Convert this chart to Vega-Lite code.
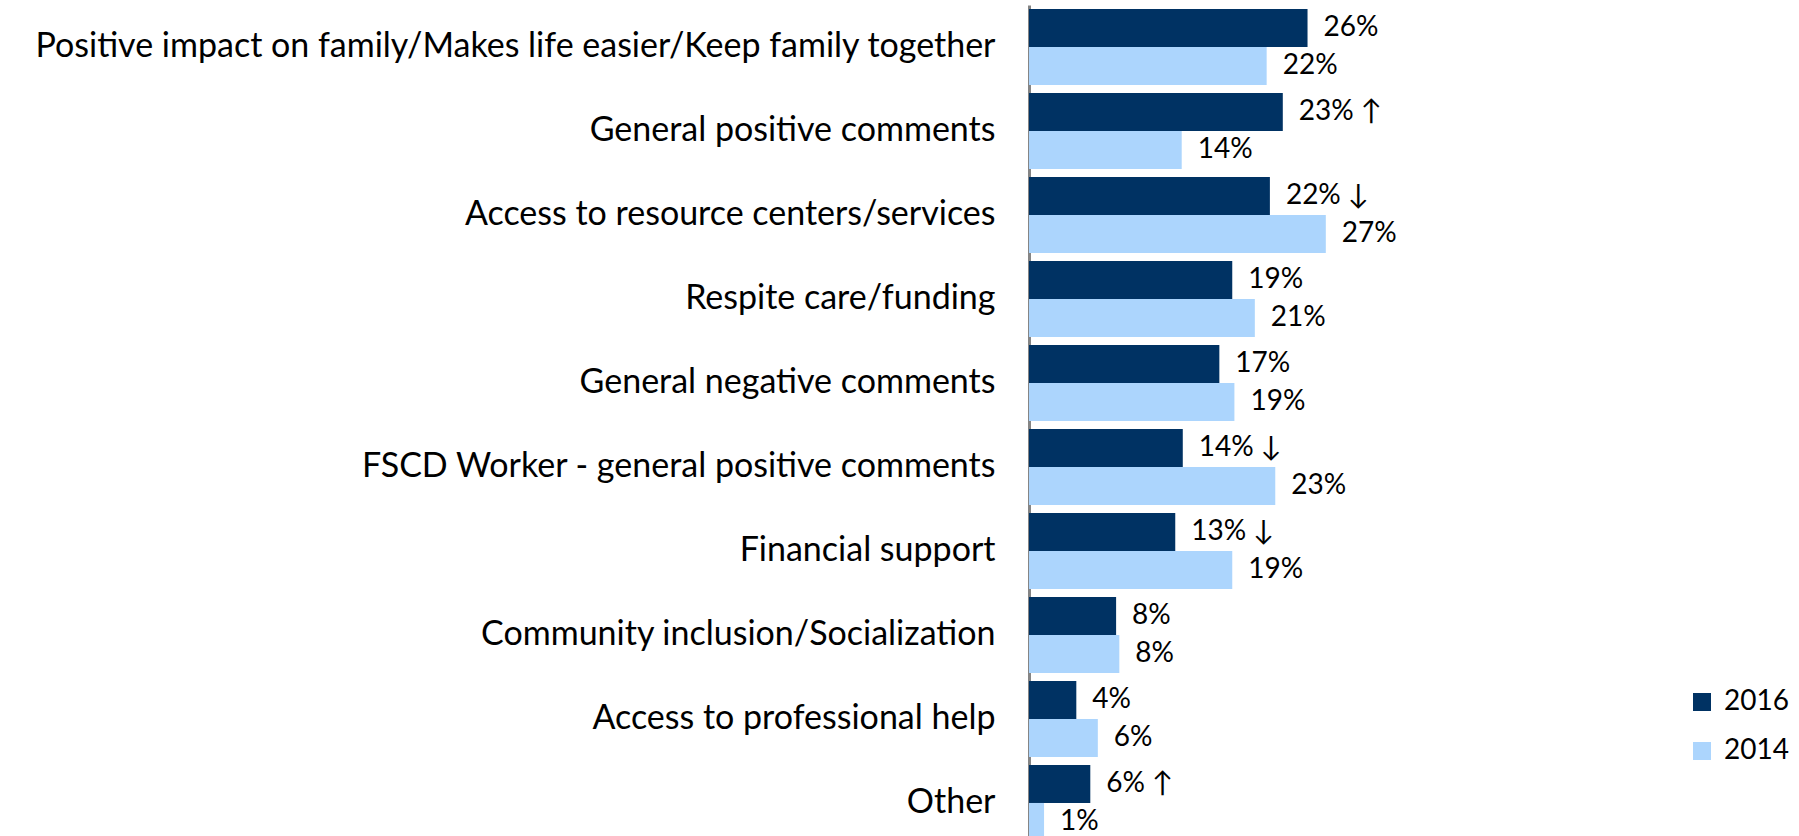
{
  "$schema": "https://vega.github.io/schema/vega-lite/v6.json",
  "autosize": {"type": "none"},
  "padding": {"left": 1029, "top": 5, "right": 0, "bottom": 0},
  "width": 770,
  "height": 840,
  "background": "white",
  "config": {
    "view": {"stroke": null},
    "font": "Lato",
    "text": {"font": "Lato"}
  },
  "data": {
    "values": [
      {"category": "Positive impact on family/Makes life easier/Keep family together", "year": "2016", "value": 25.9, "label": "26%"},
      {"category": "Positive impact on family/Makes life easier/Keep family together", "year": "2014", "value": 22.1, "label": "22%"},
      {"category": "General positive comments", "year": "2016", "value": 23.6, "label": "23% ↑"},
      {"category": "General positive comments", "year": "2014", "value": 14.2, "label": "14%"},
      {"category": "Access to resource centers/services", "year": "2016", "value": 22.4, "label": "22% ↓"},
      {"category": "Access to resource centers/services", "year": "2014", "value": 27.6, "label": "27%"},
      {"category": "Respite care/funding", "year": "2016", "value": 18.9, "label": "19%"},
      {"category": "Respite care/funding", "year": "2014", "value": 21.0, "label": "21%"},
      {"category": "General negative comments", "year": "2016", "value": 17.7, "label": "17%"},
      {"category": "General negative comments", "year": "2014", "value": 19.1, "label": "19%"},
      {"category": "FSCD Worker - general positive comments", "year": "2016", "value": 14.3, "label": "14% ↓"},
      {"category": "FSCD Worker - general positive comments", "year": "2014", "value": 22.9, "label": "23%"},
      {"category": "Financial support", "year": "2016", "value": 13.6, "label": "13% ↓"},
      {"category": "Financial support", "year": "2014", "value": 18.9, "label": "19%"},
      {"category": "Community inclusion/Socialization", "year": "2016", "value": 8.1, "label": "8%"},
      {"category": "Community inclusion/Socialization", "year": "2014", "value": 8.4, "label": "8%"},
      {"category": "Access to professional help", "year": "2016", "value": 4.4, "label": "4%"},
      {"category": "Access to professional help", "year": "2014", "value": 6.4, "label": "6%"},
      {"category": "Other", "year": "2016", "value": 5.7, "label": "6% ↑"},
      {"category": "Other", "year": "2014", "value": 1.4, "label": "1%"}
    ]
  },
  "encoding": {
    "y": {
      "field": "category",
      "type": "nominal",
      "sort": null,
      "scale": {"paddingInner": 0.095, "paddingOuter": 0.048},
      "axis": {
        "title": null,
        "ticks": false,
        "labelFontSize": 34,
        "labelColor": "#000000",
        "labelPadding": 34,
        "labelLimit": 1100,
        "domainColor": "#858585",
        "domainWidth": 3,
        "grid": false
      }
    },
    "yOffset": {
      "field": "year",
      "type": "nominal",
      "sort": ["2016", "2014"]
    },
    "x": {
      "field": "value",
      "type": "quantitative",
      "scale": {"domain": [0, 71.6], "nice": false},
      "axis": null
    }
  },
  "layer": [
    {
      "mark": {"type": "bar"},
      "encoding": {
        "color": {
          "field": "year",
          "type": "nominal",
          "scale": {"domain": ["2016", "2014"], "range": ["#003263", "#ACD5FD"]},
          "legend": {
            "title": null,
            "orient": "none",
            "legendX": 659,
            "legendY": 683,
            "symbolType": "square",
            "symbolSize": 324,
            "symbolStrokeWidth": 0,
            "labelFontSize": 28,
            "labelColor": "#000000",
            "labelOffset": 8,
            "rowPadding": 21,
            "padding": 0
          }
        }
      }
    },
    {
      "mark": {"type": "text", "align": "left", "baseline": "middle", "dx": 16, "fontSize": 28, "color": "#000000"},
      "encoding": {
        "text": {"field": "label", "type": "nominal"}
      }
    }
  ]
}
